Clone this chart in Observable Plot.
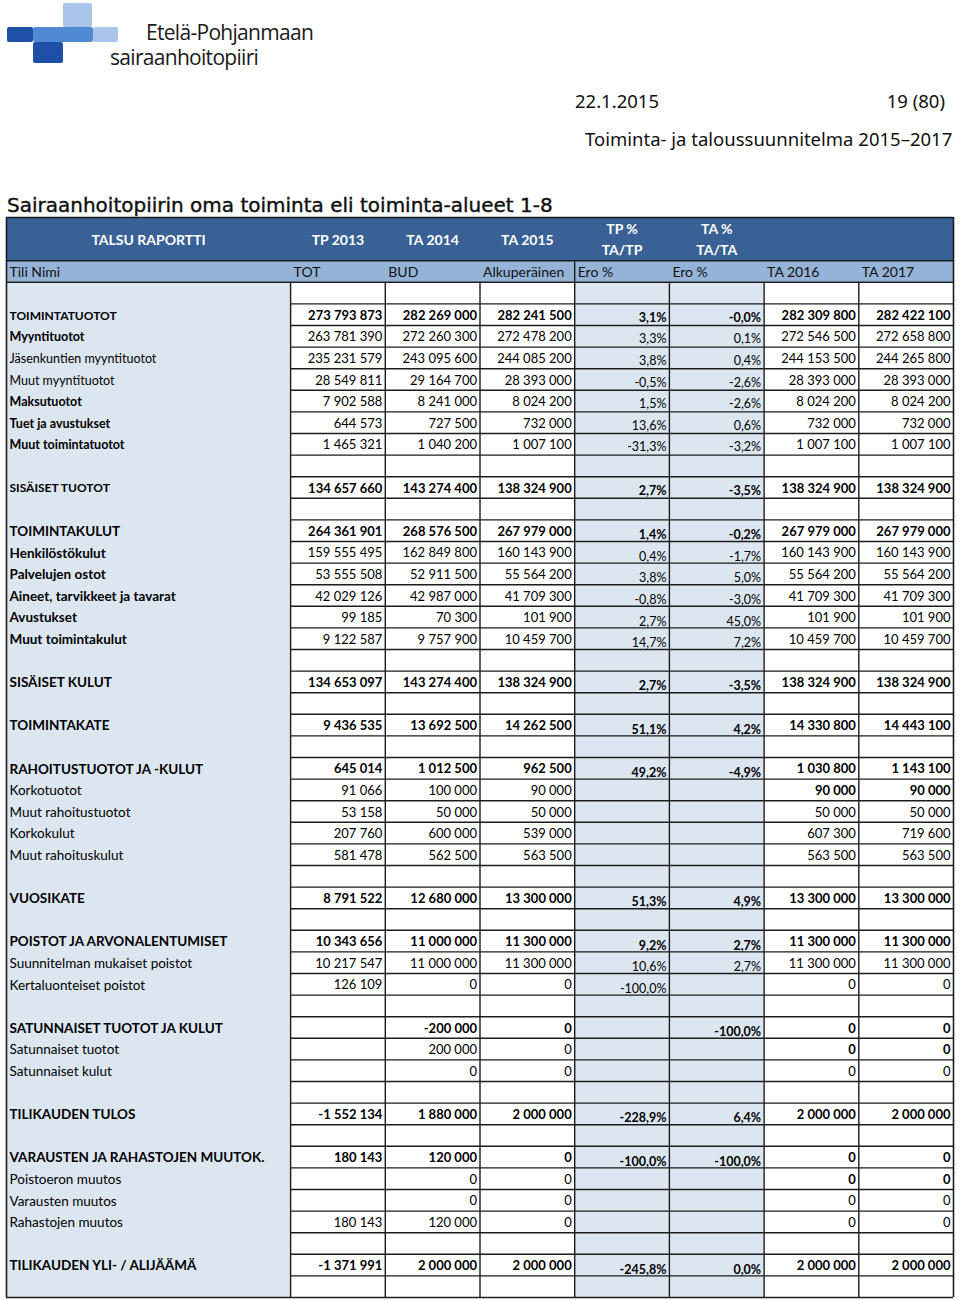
<!DOCTYPE html>
<html>
<head>
<meta charset="utf-8">
<script src="https://cdn.jsdelivr.net/npm/d3@7"></script>
<script src="https://cdn.jsdelivr.net/npm/@observablehq/plot@0.6"></script>
<style>
  body { margin: 0; background: #fff; }
  #page { position: relative; width: 960px; }
  #head { position: relative; height: 215px; }
  .blk { position: absolute; border-radius: 2px; }
  .t { position: absolute; white-space: nowrap; color: #111; }
  .logo { font-family: "Open Sans", sans-serif; font-size: 21px; letter-spacing: -0.7px; line-height: 21px; color: #1a1a1a; }
  .doc { font-family: "Noto Sans", sans-serif; font-size: 18.5px; line-height: 19px; }
  .title { font-family: "DejaVu Sans", sans-serif; font-size: 20px; line-height: 20px; -webkit-text-stroke: 0.4px #111; }
  #chart svg { display: block; }
</style>
</head>
<body>
<div id="page">
  <div id="head">
    <div class="blk" style="left:63px;top:3px;width:29px;height:24px;background:#a9c5ea"></div>
    <div class="blk" style="left:7px;top:27px;width:26px;height:15px;background:#1f50a8"></div>
    <div class="blk" style="left:33px;top:27px;width:60px;height:15px;background:#4f8ad2"></div>
    <div class="blk" style="left:93px;top:27px;width:25px;height:15px;background:#a9c5ea"></div>
    <div class="blk" style="left:33px;top:42px;width:30px;height:21px;background:#1f50a8"></div>
    <div class="t logo" style="left:146px;top:22px">Etelä-Pohjanmaan</div>
    <div class="t logo" style="left:110px;top:47px">sairaanhoitopiiri</div>
    <div class="t doc" style="left:575px;top:91px">22.1.2015</div>
    <div class="t doc" style="right:15px;top:91px">19 (80)</div>
    <div class="t doc" style="left:585px;top:129px">Toiminta- ja taloussuunnitelma 2015–2017</div>
    <div class="t title" style="left:7px;top:195px">Sairaanhoitopiirin oma toiminta eli toiminta-alueet 1-8</div>
  </div>
  <div id="chart"></div>
</div>
<script>
// ---------- DATA ----------
const topHeaders1 = ["TALSU RAPORTTI", "TP 2013", "TA 2014", "TA 2015", "TP %", "TA %", "", ""];
const topHeaders2 = ["", "", "", "", "TA/TP", "TA/TA", "", ""];
const subHeaders = ["Tili Nimi", "TOT", "BUD", "Alkuperäinen", "Ero %", "Ero %", "TA 2016", "TA 2017"];

const rowLabels = ["", "TOIMINTATUOTOT", "Myyntituotot", "Jäsenkuntien myyntituotot", "Muut myyntituotot", "Maksutuotot", "Tuet ja avustukset", "Muut toimintatuotot", "", "SISÄISET TUOTOT", "", "TOIMINTAKULUT", "Henkilöstökulut", "Palvelujen ostot", "Aineet, tarvikkeet ja tavarat", "Avustukset", "Muut toimintakulut", "", "SISÄISET KULUT", "", "TOIMINTAKATE", "", "RAHOITUSTUOTOT JA -KULUT", "Korkotuotot", "Muut rahoitustuotot", "Korkokulut", "Muut rahoituskulut", "", "VUOSIKATE", "", "POISTOT JA ARVONALENTUMISET", "Suunnitelman mukaiset poistot", "Kertaluonteiset poistot", "", "SATUNNAISET TUOTOT JA KULUT", "Satunnaiset tuotot", "Satunnaiset kulut", "", "TILIKAUDEN TULOS", "", "VARAUSTEN JA RAHASTOJEN MUUTOK.", "Poistoeron muutos", "Varausten muutos", "Rahastojen muutos", "", "TILIKAUDEN YLI- / ALIJÄÄMÄ", ""];

const tp2013 = [null, 273793873, 263781390, 235231579, 28549811, 7902588, 644573, 1465321, null, 134657660, null, 264361901, 159555495, 53555508, 42029126, 99185, 9122587, null, 134653097, null, 9436535, null, 645014, 91066, 53158, 207760, 581478, null, 8791522, null, 10343656, 10217547, 126109, null, null, null, null, null, -1552134, null, 180143, null, null, 180143, null, -1371991, null];
const ta2014 = [null, 282269000, 272260300, 243095600, 29164700, 8241000, 727500, 1040200, null, 143274400, null, 268576500, 162849800, 52911500, 42987000, 70300, 9757900, null, 143274400, null, 13692500, null, 1012500, 100000, 50000, 600000, 562500, null, 12680000, null, 11000000, 11000000, 0, null, -200000, 200000, 0, null, 1880000, null, 120000, 0, 0, 120000, null, 2000000, null];
const ta2015 = [null, 282241500, 272478200, 244085200, 28393000, 8024200, 732000, 1007100, null, 138324900, null, 267979000, 160143900, 55564200, 41709300, 101900, 10459700, null, 138324900, null, 14262500, null, 962500, 90000, 50000, 539000, 563500, null, 13300000, null, 11300000, 11300000, 0, null, 0, 0, 0, null, 2000000, null, 0, 0, 0, 0, null, 2000000, null];
const tpPct = [null, 3.1, 3.3, 3.8, -0.5, 1.5, 13.6, -31.3, null, 2.7, null, 1.4, 0.4, 3.8, -0.8, 2.7, 14.7, null, 2.7, null, 51.1, null, 49.2, null, null, null, null, null, 51.3, null, 9.2, 10.6, -100.0, null, null, null, null, null, -228.9, null, -100.0, null, null, null, null, -245.8, null];
const taPct = [null, -0.0, 0.1, 0.4, -2.6, -2.6, 0.6, -3.2, null, -3.5, null, -0.2, -1.7, 5.0, -3.0, 45.0, 7.2, null, -3.5, null, 4.2, null, -4.9, null, null, null, null, null, 4.9, null, 2.7, 2.7, null, null, -100.0, null, null, null, 6.4, null, -100.0, null, null, null, null, 0.0, null];
const ta2016 = [null, 282309800, 272546500, 244153500, 28393000, 8024200, 732000, 1007100, null, 138324900, null, 267979000, 160143900, 55564200, 41709300, 101900, 10459700, null, 138324900, null, 14330800, null, 1030800, 90000, 50000, 607300, 563500, null, 13300000, null, 11300000, 11300000, 0, null, 0, 0, 0, null, 2000000, null, 0, 0, 0, 0, null, 2000000, null];
const ta2017 = [null, 282422100, 272658800, 244265800, 28393000, 8024200, 732000, 1007100, null, 138324900, null, 267979000, 160143900, 55564200, 41709300, 101900, 10459700, null, 138324900, null, 14443100, null, 1143100, 90000, 50000, 719600, 563500, null, 13300000, null, 11300000, 11300000, 0, null, 0, 0, 0, null, 2000000, null, 0, 0, 0, 0, null, 2000000, null];

// total (summary) rows and emphasised cells
const totalRows = [1, 9, 11, 18, 20, 22, 28, 30, 34, 38, 40, 45];
const boldLabelRows = [2, 5, 6, 7, 12, 13, 14, 15, 16];
const boldCells = [[23, 6], [23, 7], [35, 6], [35, 7], [41, 6], [41, 7]];

// ---------- LAYOUT / STYLE ----------
const HEAD_DARK = 2, HEAD_LIGHT = 1, ROW0 = HEAD_DARK + HEAD_LIGHT;
const colX1 = i => i === 0 ? 0 : i + 2;
const colX2 = i => i === 0 ? 3 : i + 3;
const colMid = i => (colX1(i) + colX2(i)) / 2;
const NX = colX2(subHeaders.length - 1);
const NY = ROW0 + rowLabels.length;
const DARK = "#3a6196", LIGHT = "#95b3d7", PALE = "#dce6f1", LINE = "#1c1c1c";
const FONT = "Lato";

const totalSet = new Set(totalRows);
const boldLabelSet = new Set([...totalRows, ...boldLabelRows]);
const boldCellSet = new Set(boldCells.map(([r, c]) => r + "|" + c));
const block = r => r <= 9 ? 0 : r <= 16 ? 1 : 2;

const fmtNum = v => (v < 0 ? "-" : "") + String(Math.abs(v)).replace(/\B(?=(\d{3})+(?!\d))/g, " ");
const fmtPct = v => ((v < 0 || Object.is(v, -0)) ? "-" : "") + Math.abs(v).toFixed(1).replace(".", ",") + "%";

const series = [tp2013, ta2014, ta2015, tpPct, taPct, ta2016, ta2017];
const cells = [];
series.forEach((arr, j) => arr.forEach((v, r) => {
  if (v == null) return;
  const c = j + 1;
  cells.push({r, c, v, pct: j === 3 || j === 4, bold: totalSet.has(r) || boldCellSet.has(r + "|" + c)});
}));
const labels = rowLabels.map((t, r) => ({r, t})).filter(d => d.t);
const cols = subHeaders.map((s, i) => ({i, s, h1: topHeaders1[i], h2: topHeaders2[i]}));
const pctCols = cols.filter(d => d.i === 4 || d.i === 5);

const numText = (filter, weight, size) => Plot.text(cells.filter(filter), {
  x: d => colX2(d.c), y: d => ROW0 + d.r + 0.5, text: d => fmtNum(d.v),
  textAnchor: "end", dx: -3, dy: 1, fontFamily: FONT, fontWeight: weight, fontSize: size, fill: "#000"
});
const pctText = (filter, weight, dy) => Plot.text(cells.filter(filter), {
  x: d => colX2(d.c), y: d => ROW0 + d.r + 0.5, text: d => fmtPct(d.v),
  textAnchor: "end", dx: -3, dy,
  fontFamily: FONT, fontWeight: weight, fontSize: 12.5, fill: "#000"
});
const labelText = (filter, weight, size) => Plot.text(labels.filter(filter), {
  x: 0, y: d => ROW0 + d.r + 0.5, text: "t", textAnchor: "start", dx: 3, dy: 1,
  fontFamily: FONT, fontWeight: weight, fontSize: size, fill: "#000"
});

const hBounds = d3.range(ROW0 + 1, NY);

const chart = Plot.plot({
  width: 960, height: 1085,
  marginLeft: 6, marginRight: 7, marginTop: 2, marginBottom: 3,
  x: {type: "linear", domain: [0, NX], axis: null},
  y: {type: "linear", domain: [0, NY], reverse: true, axis: null},
  style: {background: "#fff"},
  marks: [
    // backgrounds
    Plot.rect([0], {x1: 0, x2: NX, y1: 0, y2: HEAD_DARK, fill: DARK}),
    Plot.rect([0], {x1: 0, x2: NX, y1: HEAD_DARK, y2: ROW0, fill: LIGHT}),
    Plot.rect([0], {x1: colX1(0), x2: colX2(0), y1: ROW0, y2: NY, fill: PALE}),
    Plot.rect(pctCols, {x1: d => colX1(d.i), x2: d => colX2(d.i), y1: ROW0, y2: NY, fill: PALE}),
    // grid
    Plot.ruleY(hBounds, {x1: colX1(1), x2: NX, stroke: LINE, strokeWidth: 1.4}),
    Plot.ruleY([0, HEAD_DARK, ROW0, NY], {x1: 0, x2: NX, stroke: LINE, strokeWidth: 1.6}),
    Plot.ruleX([0, NX], {y1: 0, y2: NY, stroke: LINE, strokeWidth: 1.6}),
    Plot.ruleX(cols.slice(1).map(d => colX1(d.i)), {y1: ROW0, y2: NY, stroke: LINE, strokeWidth: 1.4}),
    Plot.ruleX([colX1(4)], {y1: HEAD_DARK, y2: ROW0, stroke: LINE, strokeWidth: 1.4}),
    // header texts
    Plot.text(cols.filter(d => d.h1 && !d.h2), {x: d => colMid(d.i), y: HEAD_DARK / 2, text: "h1", fill: "#fff", fontFamily: FONT, fontWeight: "bold", fontSize: 14, dy: 1}),
    Plot.text(cols.filter(d => d.h2), {x: d => colMid(d.i), y: HEAD_DARK / 4, text: "h1", fill: "#fff", fontFamily: FONT, fontWeight: "bold", fontSize: 14, dy: 1}),
    Plot.text(cols.filter(d => d.h2), {x: d => colMid(d.i), y: HEAD_DARK * 3 / 4, text: "h2", fill: "#fff", fontFamily: FONT, fontWeight: "bold", fontSize: 14, dy: 1}),
    Plot.text(cols, {x: d => colX1(d.i), y: HEAD_DARK + HEAD_LIGHT / 2, text: "s", textAnchor: "start", dx: 3, dy: 1, fill: "#111", fontFamily: FONT, fontSize: 14}),
    // row labels
    labelText(d => block(d.r) === 0 && totalSet.has(d.r), "bold", 12),
    labelText(d => block(d.r) === 0 && !totalSet.has(d.r) && boldLabelSet.has(d.r), "bold", 12.5),
    labelText(d => block(d.r) === 0 && !boldLabelSet.has(d.r), "normal", 12.5),
    labelText(d => block(d.r) === 1, "bold", 13.5),
    labelText(d => block(d.r) === 2 && boldLabelSet.has(d.r), "bold", 13.5),
    labelText(d => block(d.r) === 2 && !boldLabelSet.has(d.r), "normal", 13.5),
    // numbers
    numText(d => !d.pct && d.bold, "bold", 13),
    numText(d => !d.pct && !d.bold, "normal", 13),
    pctText(d => d.pct && d.bold && block(d.r) === 0, "bold", 3),
    pctText(d => d.pct && !d.bold && block(d.r) === 0, "normal", 3),
    pctText(d => d.pct && d.bold && block(d.r) > 0, "bold", 4.5),
    pctText(d => d.pct && !d.bold && block(d.r) > 0, "normal", 4.5)
  ]
});
document.getElementById("chart").append(chart);
</script>
</body>
</html>
